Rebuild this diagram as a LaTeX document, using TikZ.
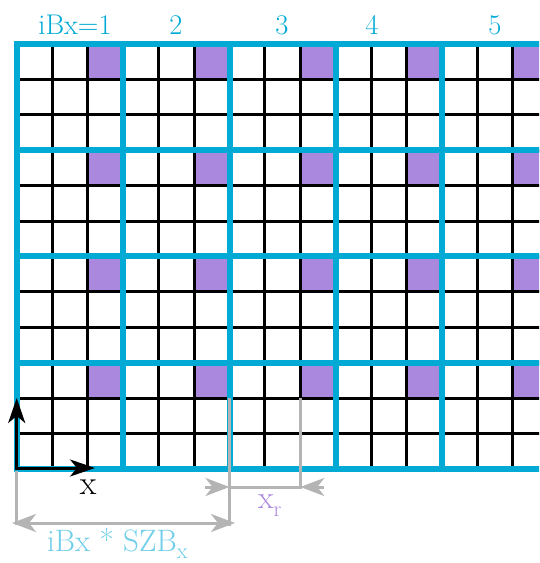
\documentclass[tikz,border=0pt]{standalone}
\usetikzlibrary{arrows.meta}
\definecolor{bblue}{RGB}{0,170,212}
\definecolor{lblue}{RGB}{112,206,232}
\definecolor{purp}{RGB}{170,136,222}
\definecolor{gr}{RGB}{180,180,180}
\begin{document}
\begin{tikzpicture}[x=1pt,y=1pt,
  bluel/.style={draw=bblue,line width=6pt,line cap=rect},
  blackl/.style={draw=black,line width=3pt},
  dimline/.style={draw=gr,line width=3pt},
  gtip/.tip={Stealth[length=24pt,width=18pt,inset=7pt]},
  ktip/.tip={Stealth[length=25pt,width=17pt,inset=7pt]},
  toplab/.style={text=bblue,inner sep=0pt,anchor=base,font=\fontsize{28.5}{34}\selectfont},
  lab/.style={inner sep=0pt,anchor=base west}]
\def\B{106.25}
\def\C{35.41667}
\useasboundingbox (-17,-94) rectangle (522,469);
\begin{scope}
\clip (-17,-94) rectangle (522,469);
% purple cells
\foreach \i in {0,...,4}{
  \foreach \j in {0,...,3}{
    \fill[purp] ({\i*\B+2*\C},{\j*\B+2*\C}) rectangle ({(\i+1)*\B},{(\j+1)*\B});
  }
}
% black cell lines
\foreach \k in {1,...,15}{
  \draw[blackl] ({\k*\C},0) -- ({\k*\C},425);
}
\foreach \k in {1,...,11}{
  \draw[blackl] (0,{\k*\C}) -- (540,{\k*\C});
}
% blue block lines
\foreach \k in {0,...,5}{
  \draw[bluel] ({\k*\B},0) -- ({\k*\B},425);
}
\foreach \k in {0,...,4}{
  \draw[bluel] (0,{\k*\B}) -- (545,{\k*\B});
}
\end{scope}
% top labels
\node[toplab] (l1) at (58,434) {iBx=1};
\node[toplab] (l2) at (159,434) {2};
\node[toplab] (l3) at (265,434) {3};
\node[toplab] (l4) at (355,434) {4};
\node[toplab] (l5) at (478,434) {5};
% dimension construction
\coordinate (o) at (0,0);
\coordinate (a1) at (0,-2);
\coordinate (a2) at (0,-56);
\coordinate (b1) at (212.5,70.8);
\coordinate (b2) at (212.5,-57);
\coordinate (c1) at (283.3,70.8);
\coordinate (c2) at (283.3,-19.5);
\draw[dimline] (a1) -- (a2);
\draw[dimline] (b1) -- (b2);
\draw[dimline] (c1) -- (c2);
\coordinate (d1) at (-5,-54);
\coordinate (d2) at (218,-54);
\draw[dimline,{gtip}-{gtip}] (d1) -- (d2);
\coordinate (e1) at (212.5,-18);
\coordinate (e2) at (283.3,-18);
\coordinate (e0) at (188,-18);
\coordinate (e3) at (307,-18);
\draw[dimline] (e1) -- (e2);
\draw[dimline,-{gtip}] (e0) -- (e1);
\draw[dimline,-{gtip}] (e3) -- (e2);
% axes
\coordinate (ytip) at (-0.3,71);
\coordinate (xtip) at (78,1);
\coordinate (org) at (-0.3,1);
\draw[line width=3pt,line join=miter,{ktip}-{ktip}] (ytip) -- (org) -- (xtip);
% labels
\node[inner sep=0pt,anchor=base,font=\fontsize{34}{38}\selectfont] (xl) at (71,-25) {x};
\node[lab,text=purp,font=\fontsize{32}{36}\selectfont] (xr) at (241,-39) {x\raisebox{-8pt}{\fontsize{22}{24}\selectfont r}};
\node[lab,text=lblue,font=\fontsize{31}{36}\selectfont] (sz) at (30,-82) {iBx * SZB\raisebox{-7pt}{\fontsize{22}{24}\selectfont x}};
\end{tikzpicture}
\end{document}
